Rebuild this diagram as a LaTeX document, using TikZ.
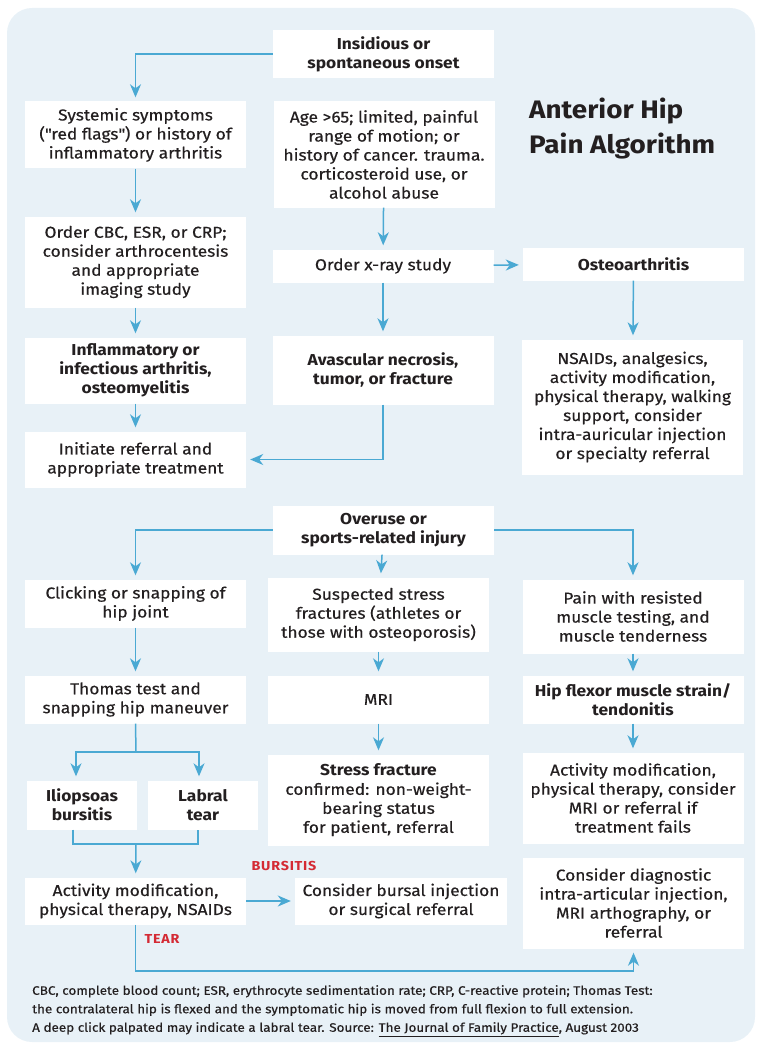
\documentclass[tikz,border=0pt]{standalone}
\usepackage{fontspec}
\setmainfont{Fira Sans}[FakeStretch=1.1, UprightFeatures={FakeBold=0.4}]
\usetikzlibrary{arrows.meta}

\definecolor{bgblue}{HTML}{E8F1F7}
\definecolor{lineblue}{HTML}{4AA9D3}
\definecolor{flagred}{HTML}{D42A34}
\definecolor{ink}{HTML}{231F20}

\tikzset{
    box/.style={fill=white, align=center, inner sep=2pt, minimum width=221pt, text=ink,
        font=\fontsize{15.8}{19}\selectfont},
    hd/.style={box, font=\fontsize{15.8}{19}\selectfont\bfseries},
    conn/.style={draw=lineblue, line width=1.5pt},
    arr/.style={conn, -{Stealth[length=13pt, width=11pt, inset=4pt]}, shorten >=4pt},
    lbl/.style={text=flagred, font=\fontsize{13}{15}\selectfont\bfseries\addfontfeature{LetterSpace=6}, inner sep=0pt},
}

\begin{document}
\begin{tikzpicture}[x=1pt, y=-1pt]
            \useasboundingbox (0,0) rectangle (758,1043);
            \fill[bgblue, rounded corners=25pt] (7,8) rectangle (755,1042);

            % first tree
            \node[hd, minimum height=48pt] (ins) at (383.5,54) {Insidious or\\spontaneous onset};
            \node[box, minimum height=67pt] (sys) at (135.5,135) {Systemic symptoms\\(\textquotedbl red flags\textquotedbl) or history of\\inflammatory arthritis};
            \node[box, minimum height=106pt] (age) at (384,154.5) {Age >65; limited, painful\\range of motion; or\\history of cancer. trauma.\\corticosteroid use, or\\alcohol abuse};
            \node[text=ink, font=\fontsize{25.3}{35}\selectfont\bfseries, align=left, anchor=north west, inner sep=0pt] (title) at (529,98) {Anterior Hip\\Pain Algorithm};
            \node[box, minimum height=91pt] (cbc) at (135.5,262) {Order CBC, ESR, or CRP;\\consider arthrocentesis\\and appropriate\\imaging study};
            \node[box, minimum height=33pt] (xray) at (383,266) {Order x-ray study};
            \node[hd, minimum height=33pt] (oa) at (633.5,264) {Osteoarthritis};
            \node[hd, minimum height=66pt] (infl) at (135.5,370.5) {Inflammatory or\\infectious arthritis,\\osteomyelitis};
            \node[hd, minimum height=69pt] (avn) at (383,370) {Avascular necrosis,\\tumor, or fracture};
            \node[box, minimum height=135pt] (nsaid) at (632.5,407) {NSAIDs, analgesics,\\activity modification,\\physical therapy, walking\\support, consider\\intra-auricular injection\\or specialty referral};
            \node[box, minimum height=56pt] (refer) at (135.5,459.5) {Initiate referral and\\appropriate treatment};

            \draw[arr] (ins.west) -| (sys.north);
            \draw[arr] (sys) -- (cbc);
            \draw[arr] (cbc) -- (infl);
            \draw[arr] (infl) -- (refer);
            \draw[arr] (age) -- (xray);
            \draw[arr] (xray) -- (oa);
            \draw[arr] (xray) -- (avn);
            \draw[arr] (oa) -- (nsaid);
            \draw[arr] (avn.south) |- (refer.east);

            % second tree
            \node[hd, minimum height=49pt] (overuse) at (383.5,530) {Overuse or\\sports-related injury};
            \node[box, minimum height=48pt] (click) at (135.5,603.5) {Clicking or snapping of\\hip joint};
            \node[box, minimum height=74pt] (stress) at (378.5,614.5) {Suspected stress\\fractures (athletes or\\those with osteoporosis)};
            \node[box, minimum height=74pt] (pain) at (633,616.5) {Pain with resisted\\muscle testing, and\\muscle tenderness};
            \node[box, minimum height=48pt] (thomas) at (135.5,699.5) {Thomas test and\\snapping hip maneuver};
            \node[box, minimum height=48pt] (mri) at (378.5,699.5) {MRI};
            \node[hd, minimum height=48pt] (flexor) at (633,699.5) {Hip flexor muscle strain/\\tendonitis};
            \node[hd, minimum width=110pt, minimum height=49pt] (ilio) at (82,805) {Iliopsoas\\bursitis};
            \node[hd, minimum width=110pt, minimum height=49pt] (labral) at (203,805) {Labral\\tear};
            \node[box, minimum height=91pt] (sfx) at (378.5,800) {\textbf{Stress fracture}\\confirmed: non-weight-\\bearing status\\for patient, referral};
            \node[box, minimum height=91pt] (actr) at (633,798) {Activity modification,\\physical therapy, consider\\MRI or referral if\\treatment fails};
            \node[box, minimum height=47pt] (actl) at (135.5,901) {Activity modification,\\physical therapy, NSAIDs};
            \node[box, minimum width=212pt, minimum height=47pt] (bursal) at (401,901) {Consider bursal injection\\or surgical referral};
            \node[box, minimum height=91pt] (diag) at (633.5,903) {Consider diagnostic\\intra-articular injection,\\MRI arthography, or\\referral};

            \coordinate (split) at (136,752);
            \coordinate (merge) at (136,844);
            \coordinate (tearturn) at (135.5,971);

            \draw[arr] (overuse.west) -| (click.north);
            \draw[arr] (overuse) -- (stress);
            \draw[arr] (overuse.east) -| (pain.north);
            \draw[arr] (click) -- (thomas);
            \draw[arr] (stress) -- (mri);
            \draw[arr] (mri) -- (sfx);
            \draw[arr] (pain) -- (flexor);
            \draw[arr] (flexor) -- (actr);
            \draw[conn] (thomas.south) -- (split);
            \draw[arr] (split) -| ([xshift=-6pt]ilio.north);
            \draw[arr] (split) -| ([xshift=-4pt]labral.north);
            \draw[conn] ([xshift=-9pt]ilio.south) |- (merge) -| ([xshift=-5pt]labral.south);
            \draw[arr] (merge) -- (actl);
            \draw[arr] (actl) -- (bursal);
            \draw[arr] (actl.south) -- (tearturn) -| (diag.south);

            \node[lbl] (bursitis) at (284,866) {BURSITIS};
            \node[lbl] (tear) at (162,939) {TEAR};

            \node[text=ink, font=\fontsize{12.25}{18.5}\selectfont, align=left, anchor=north west, inner sep=0pt] (note) at (32,985) {CBC, complete blood count; ESR, erythrocyte sedimentation rate; CRP, C-reactive protein; Thomas Test:\\the contralateral hip is flexed and the symptomatic hip is moved from full flexion to full extension.\\A deep click palpated may indicate a labral tear. Source: \underline{The Journal of Family Practice}, August 2003};
\end{tikzpicture}
\end{document}
